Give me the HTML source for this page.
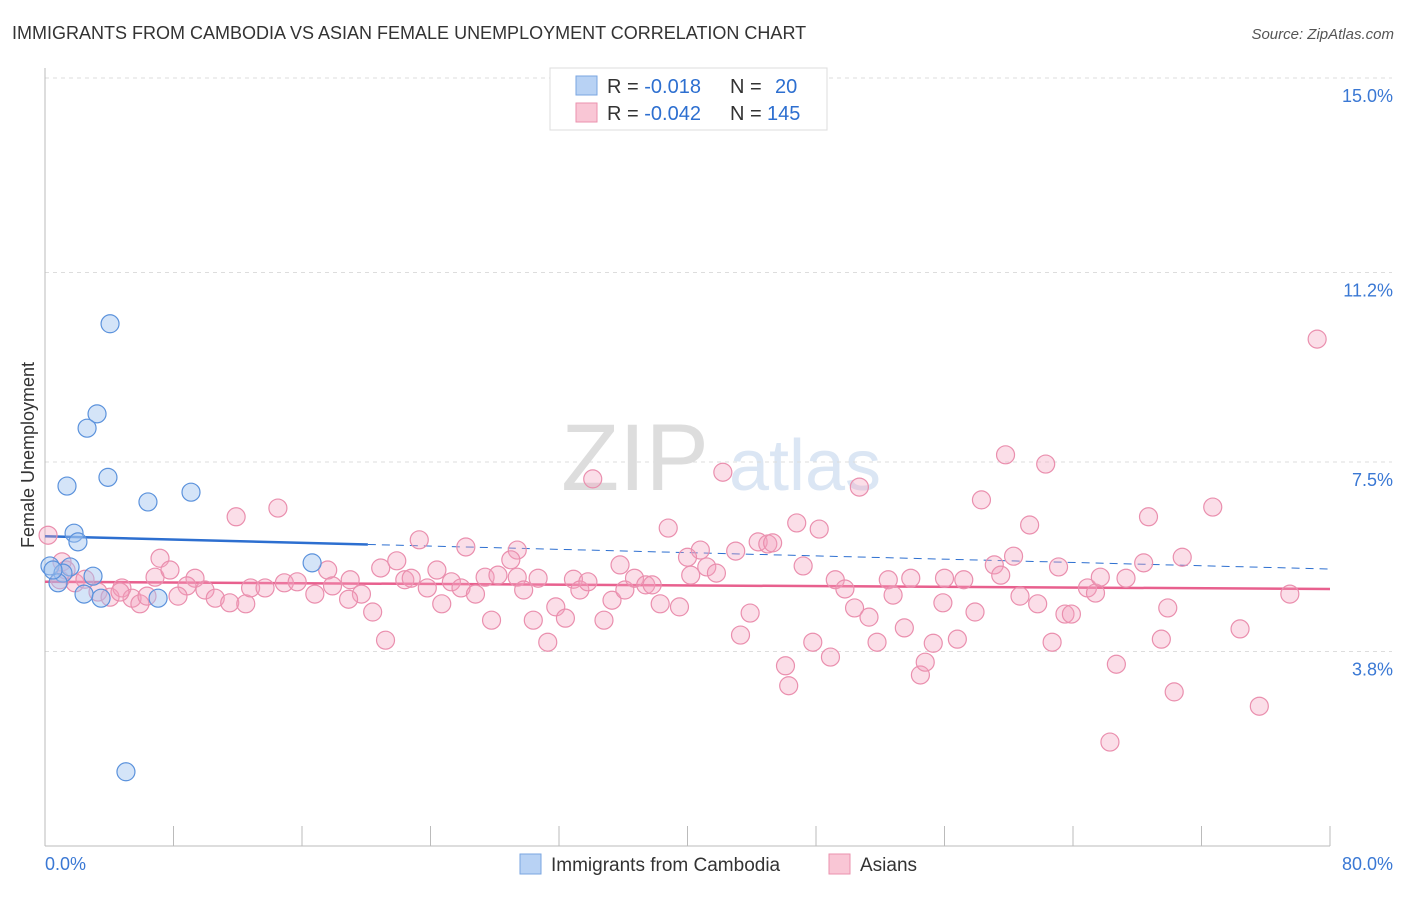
<!DOCTYPE html>
<html><head><meta charset="utf-8"><style>
body{margin:0;background:#fff;font-family:"Liberation Sans",sans-serif}
svg text{font-family:"Liberation Sans",sans-serif}
</style></head><body>
<svg width="1406" height="892" xmlns="http://www.w3.org/2000/svg">
<text x="12" y="39" font-size="18" fill="#333">IMMIGRANTS FROM CAMBODIA VS ASIAN FEMALE UNEMPLOYMENT CORRELATION CHART</text>
<text x="1394" y="39" font-size="15" fill="#555" text-anchor="end" font-style="italic">Source: ZipAtlas.com</text>
<g><text x="635" y="490" font-size="95" fill="#ddd" font-family="Liberation Serif" text-anchor="middle">ZIP</text><text x="805" y="490" font-size="72" fill="#dbe6f4" text-anchor="middle">atlas</text></g>
<g id="grid"></g><g id="axes"></g><g id="trend"></g><g id="pts"></g>
<text transform="translate(34,455) rotate(-90)" font-size="18" fill="#333" text-anchor="middle">Female Unemployment</text>
<g>
<rect x="550" y="68" width="277" height="62" fill="#fff" stroke="#ddd"/>
<rect x="576" y="76" width="21" height="19" fill="#b8d2f4" stroke="#7aa6e0"/>
<rect x="576" y="103" width="21" height="19" fill="#f9c6d5" stroke="#eb92ae"/>
<text x="607" y="93" font-size="20" fill="#333">R = <tspan fill="#2d6fd0"> -0.018</tspan><tspan x="730">N = </tspan><tspan fill="#2d6fd0" x="775">20</tspan></text>
<text x="607" y="120" font-size="20" fill="#333">R = <tspan fill="#2d6fd0">-0.042</tspan><tspan x="730">N = </tspan><tspan fill="#2d6fd0" x="767">145</tspan></text>
</g>
<g>
<rect x="520" y="854" width="21" height="20" fill="#b8d2f4" stroke="#7aa6e0"/>
<text x="551" y="871" font-size="19" fill="#333">Immigrants from Cambodia</text>
<rect x="829" y="854" width="21" height="20" fill="#f9c6d5" stroke="#eb92ae"/>
<text x="860" y="871" font-size="19" fill="#333">Asians</text>
</g>
</svg>
<script>
const yTicks=[15.0,11.2,7.5,3.8];
const yTickLabels=["15.0%","11.2%","7.5%","3.8%"];
const xTickLabels=["0.0%","80.0%"];
const blueX=[4.05,3.24,2.62,3.92,1.37,6.41,9.09,1.81,2.05,16.63,0.31,1.56,2.99,1.12,0.81,2.43,3.49,7.04,5.04,0.5];
const blueY=[10.20,8.44,8.16,7.20,7.03,6.72,6.91,6.11,5.94,5.53,5.47,5.45,5.27,5.33,5.14,4.92,4.84,4.84,1.45,5.39];
const pinkX=[79.2,59.8,62.3,42.2,34.1,50.7,58.3,72.7,68.7,61.3,46.8,38.8,48.2,44.4,45.0,45.3,60.3,70.8,68.4,47.2,43.0,40.8,40.0,29.4,26.2,23.3,21.9,7.16,11.9,14.5,0.19,1.06,
6.85,7.78,9.34,8.84,9.96,10.6,11.5,12.5,12.8,13.7,14.9,15.7,16.8,17.6,17.9,19.0,19.7,18.9,20.4,20.9,21.2,22.4,22.8,23.8,24.4,24.7,25.3,25.9,26.8,27.4,28.2,27.8,29.0,29.4,29.8,30.4,30.7,31.3,31.8,32.4,32.9,33.3,33.8,34.8,35.3,35.8,36.1,36.7,37.4,37.8,38.3,39.5,40.2,41.2,41.8,43.3,43.9,46.1,46.3,47.8,48.9,49.2,49.8,50.4,51.3,51.8,52.5,52.8,53.5,53.9,54.5,54.8,55.3,55.9,56.0,56.8,57.2,57.9,59.1,59.5,60.7,61.8,62.7,63.5,63.9,64.9,65.4,65.7,66.3,66.7,67.3,69.5,69.9,70.3,74.4,75.6,77.5,63.1,
1.87,2.49,3.30,4.05,4.79,5.42,5.91,6.35,8.28,4.67,0.93,1.31];
const pinkY=[9.90,7.64,7.46,7.30,7.17,7.01,6.76,6.62,6.43,6.27,6.31,6.21,6.19,5.94,5.90,5.92,5.66,5.64,5.53,5.47,5.76,5.78,5.64,5.78,5.84,5.98,5.57,5.62,6.43,6.60,6.07,5.55,
5.25,5.39,5.23,5.08,5.00,4.84,4.75,4.73,5.04,5.04,5.14,5.16,4.92,5.39,5.08,5.20,4.92,4.82,4.57,5.43,4.02,5.20,5.23,5.04,5.39,4.73,5.16,5.04,4.92,5.25,5.29,4.41,5.59,5.25,5.00,4.41,5.23,3.98,4.67,4.45,5.21,5.00,5.16,4.41,4.80,5.49,5.00,5.23,5.10,5.10,4.73,4.67,5.29,5.45,5.33,4.12,4.55,3.52,3.13,3.98,3.69,5.20,5.02,4.65,4.47,3.98,5.20,4.90,4.26,5.23,3.34,3.59,3.96,4.75,5.23,4.04,5.20,4.57,5.49,5.29,4.88,4.73,3.98,4.53,4.53,5.04,4.94,5.25,2.03,3.55,5.23,4.04,4.65,3.01,4.24,2.73,4.92,5.45,
5.14,5.21,4.96,4.86,5.04,4.84,4.73,4.88,4.88,4.96,5.20,5.39];
const trendBlue=[6.05,5.41]; // value at x=0 and x=80
const trendPink=[5.16,5.02];
const NS='http://www.w3.org/2000/svg';
const X=v=>45+v*16.0625, Y=v=>78+(15-v)*51.2;
function mk(tag,attrs,parent){const e=document.createElementNS(NS,tag);for(const k in attrs)e.setAttribute(k,attrs[k]);document.getElementById(parent).appendChild(e);return e;}
yTicks.forEach((t,i)=>{
 const g=mk('line',{x1:45,x2:1392,y1:Y(t),y2:Y(t),stroke:'#ddd','stroke-dasharray':'4,4'},'grid');
 
 
 const l=mk('text',{x:1393,y:Y(t)+24,'font-size':18,fill:'#3a78d4','text-anchor':'end'},'axes');
 l.textContent=yTickLabels[i];
 
 
});
const ya=mk('line',{x1:45,x2:45,y1:68,y2:846,stroke:'#bbb'},'axes');


const xa=mk('line',{x1:45,x2:1330,y1:846,y2:846,stroke:'#bbb'},'axes');


for(let i=0;i<=10;i++){const t=mk('line',{x1:X(i*8),x2:X(i*8),y1:826,y2:846,stroke:'#bbb'},'axes');
 
 }
[[0,'start',45],[80,'end',1393]].forEach((d,i)=>{const t=mk('text',{x:d[2],y:870,'font-size':18,fill:'#3a78d4','text-anchor':d[1]},'axes');t.textContent=xTickLabels[i];
 
 });
const bAt=v=>trendBlue[0]+(trendBlue[1]-trendBlue[0])*v/80;
const tb1=mk('line',{x1:X(0),y1:Y(bAt(0)),x2:X(20.1),y2:Y(bAt(20.1)),stroke:'#2d6fd0','stroke-width':2.5},'trend');


const tb2=mk('line',{x1:X(20.1),y1:Y(bAt(20.1)),x2:X(80),y2:Y(bAt(80)),stroke:'#2d6fd0','stroke-width':1,'stroke-dasharray':'8,6'},'trend');


const tp=mk('line',{x1:X(0),y1:Y(trendPink[0]),x2:X(80),y2:Y(trendPink[1]),stroke:'#e8608e','stroke-width':2.5},'trend');


pinkX.forEach((x,i)=>{const c=mk('circle',{cx:X(x),cy:Y(pinkY[i]),r:9,fill:'rgba(244,160,188,0.35)',stroke:'#ea8fae','stroke-width':1.2},'pts');
 
 });
blueX.forEach((x,i)=>{const c=mk('circle',{cx:X(x),cy:Y(blueY[i]),r:9,fill:'rgba(160,196,240,0.45)',stroke:'#5b92dc','stroke-width':1.2},'pts');
 
 });
</script>
</body></html>
